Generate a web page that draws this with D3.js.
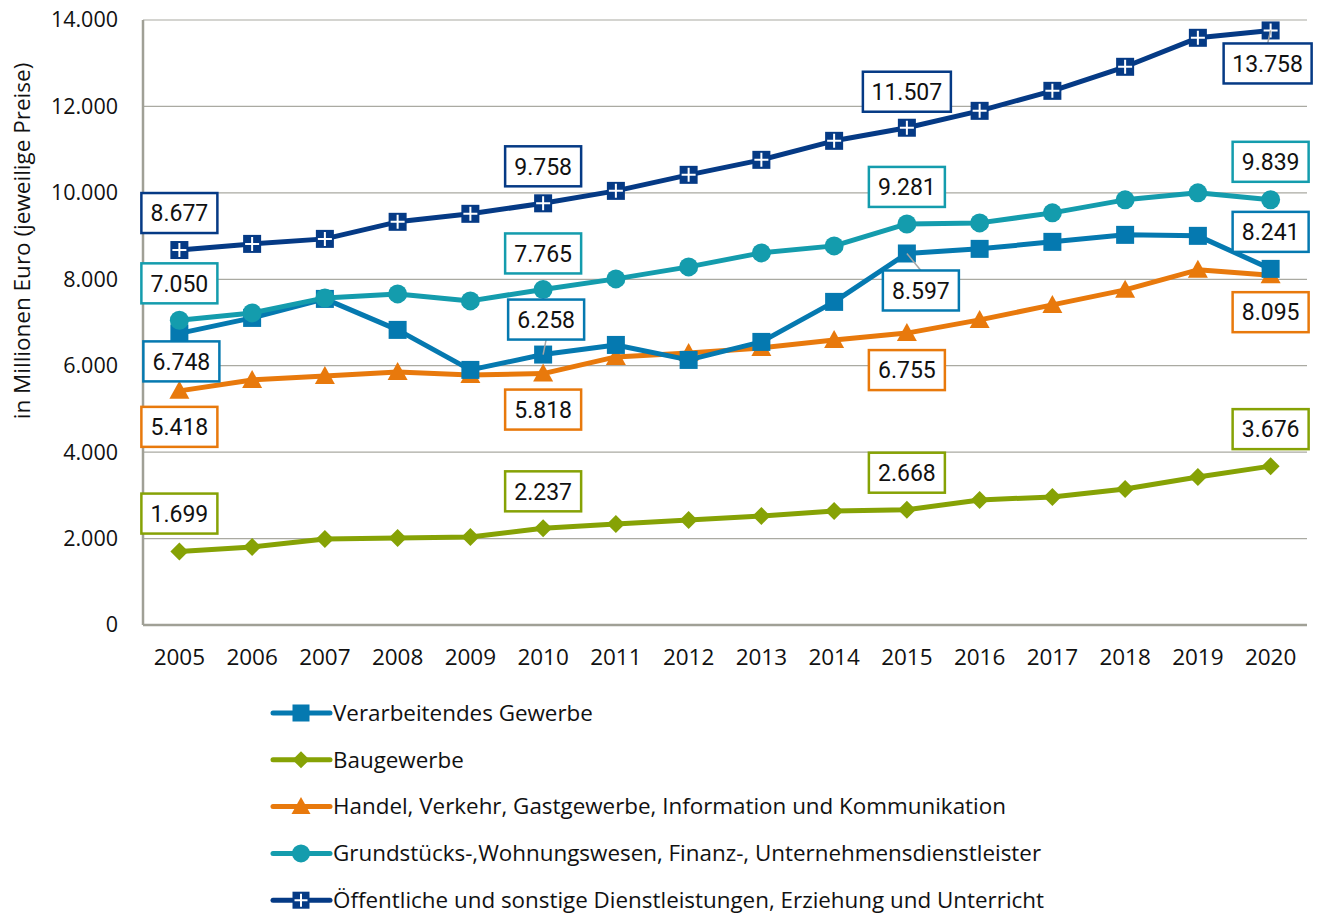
<!DOCTYPE html>
<html lang="de">
<head>
<meta charset="UTF-8">
<title>Bruttowertschöpfung</title>
<script src="https://cdn.jsdelivr.net/npm/d3@7"></script>
<style>
    * { margin: 0; }
    body { background: #fff; }
    svg { display: block; }
</style>
</head>
<body>
<svg id="chart" width="1320" height="915"></svg>
<script>
// Daten (Mio. Euro, jeweilige Preise)
const years = ["2005","2006","2007","2008","2009","2010","2011","2012","2013","2014","2015","2016","2017","2018","2019","2020"];
const yTicks = [0, 2000, 4000, 6000, 8000, 10000, 12000, 14000];

const verarbeitend = [6748, 7106, 7546, 6829, 5903, 6258, 6481, 6134, 6551, 7477, 8597, 8704, 8866, 9028, 9005, 8241];
const bau = [1699, 1806, 1991, 2014, 2037, 2237, 2338, 2431, 2523, 2639, 2668, 2894, 2963, 3148, 3426, 3676];
const handel = [5418, 5671, 5764, 5856, 5787, 5818, 6204, 6296, 6412, 6597, 6755, 7060, 7407, 7755, 8218, 8095];
const grundstueck = [7050, 7222, 7569, 7662, 7500, 7765, 8009, 8287, 8611, 8773, 9281, 9305, 9537, 9838, 10000, 9839];
const oeffentlich = [8677, 8819, 8935, 9330, 9515, 9758, 10046, 10417, 10764, 11204, 11507, 11898, 12361, 12917, 13588, 13758];

const seriesNames = [
    "Verarbeitendes Gewerbe",
    "Baugewerbe",
    "Handel, Verkehr, Gastgewerbe, Information und Kommunikation",
    "Grundstücks-,Wohnungswesen, Finanz-, Unternehmensdienstleister",
    "Öffentliche und sonstige Dienstleistungen, Erziehung und Unterricht"
];

// Beschriftete Jahre (Index) und Versatz der Box
const labelIdx = [0, 5, 10, 15];
const labelOffsets = [
    [[2, 28], [3, -35, true], [14, 37, true], [0, -37]],   // Verarbeitend
    [[0, -38], [0, -37], [0, -37], [0, -37]],              // Bau
    [[0, 36], [0, 36], [0, 37], [0, 37]],                  // Handel
    [[0, -37], [0, -36], [0, -37], [0, -38]],              // Grundstück
    [[0, -37], [0, -37], [0, -36], [-3, 33, true]]         // Öffentlich
];

const series = [
    { name: seriesNames[0], values: verarbeitend, color: "#0579b0", symbol: "square" },
    { name: seriesNames[1], values: bau, color: "#86a205", symbol: "diamond" },
    { name: seriesNames[2], values: handel, color: "#e8790c", symbol: "triangle" },
    { name: seriesNames[3], values: grundstueck, color: "#149cad", symbol: "circle" },
    { name: seriesNames[4], values: oeffentlich, color: "#053a85", symbol: "cross" }
];

const svg = d3.select("#chart");
const margin = { left: 143, right: 1307, top: 20, bottom: 625 };
const axisFont = "'Open Sans', sans-serif";

const x = d3.scaleBand().domain(years).range([margin.left, margin.right]);
const y = d3.scaleLinear().domain([0, 14000]).range([margin.bottom, margin.top]);
const cx = d => x(d) + x.bandwidth() / 2;

const fmt = d3.formatLocale({ decimal: ",", thousands: ".", grouping: [3], currency: ["", "€"] }).format(",");

// Gitterlinien
svg.append("g")
    .selectAll("line")
    .data(yTicks.filter(d => d > 0))
    .join("line")
    .attr("x1", margin.left).attr("x2", margin.right)
    .attr("y1", d => y(d)).attr("y2", d => y(d))
    .attr("stroke", "#aaaaa2").attr("stroke-width", 1.2);

// Achsenlinien
svg.append("line")
    .attr("x1", margin.left).attr("x2", margin.left)
    .attr("y1", margin.top).attr("y2", margin.bottom)
    .attr("stroke", "#a0a096").attr("stroke-width", 2.5);
svg.append("line")
    .attr("x1", margin.left).attr("x2", margin.right)
    .attr("y1", margin.bottom).attr("y2", margin.bottom)
    .attr("stroke", "#a0a096").attr("stroke-width", 2.5);

// Y-Achse Beschriftung
const yAxis = svg.append("g")
    .attr("transform", `translate(${margin.left},0)`)
    .call(d3.axisLeft(y).tickValues(yTicks).tickSize(0).tickPadding(25).tickFormat(fmt));
yAxis.select(".domain").remove();
yAxis.selectAll("text")
    .attr("font-family", axisFont).attr("font-size", 21.5).attr("fill", "#111");

// X-Achse Beschriftung
const xAxis = svg.append("g")
    .attr("transform", `translate(0,${margin.bottom})`)
    .call(d3.axisBottom(x).tickSize(0).tickPadding(24));
xAxis.select(".domain").remove();
xAxis.selectAll("text")
    .attr("font-family", axisFont).attr("font-size", 22.5).attr("fill", "#111");

// Y-Titel
svg.append("text")
    .attr("transform", "translate(30,241) rotate(-90)")
    .attr("text-anchor", "middle")
    .attr("font-family", axisFont).attr("font-size", 22.5)
    .attr("fill", "#111")
    .text("in Millionen Euro (jeweilige Preise)");

// Marker zeichnen
function marker(g, s, px, py, size) {
    const h = size / 2;
    if (s.symbol === "square") {
        g.append("rect").attr("x", px - h).attr("y", py - h).attr("width", size).attr("height", size).attr("fill", s.color);
    } else if (s.symbol === "diamond") {
        g.append("path").attr("d", `M${px},${py - h}L${px + h},${py}L${px},${py + h}L${px - h},${py}Z`).attr("fill", s.color);
    } else if (s.symbol === "triangle") {
        g.append("path").attr("d", `M${px},${py - h - 1}L${px + h + 1},${py + h - 1}L${px - h - 1},${py + h - 1}Z`).attr("fill", s.color);
    } else if (s.symbol === "circle") {
        g.append("circle").attr("cx", px).attr("cy", py).attr("r", h + 0.5).attr("fill", s.color);
    } else {
        g.append("rect").attr("x", px - h).attr("y", py - h).attr("width", size).attr("height", size).attr("fill", s.color);
        g.append("path").attr("d", `M${px},${py - h + 2}V${py + h - 2}M${px - h + 2},${py}H${px + h - 2}`)
            .attr("stroke", "#fff").attr("stroke-width", 2);
    }
}

const line = d3.line().x((d, i) => cx(years[i])).y(d => y(d));

// Linien (Reihenfolge wie im Original)
const drawOrder = [1, 2, 0, 3, 4];
drawOrder.forEach(k => {
    const s = series[k];
    const g = svg.append("g");
    g.append("path")
        .datum(s.values)
        .attr("d", line)
        .attr("fill", "none")
        .attr("stroke", s.color)
        .attr("stroke-width", 5)
        .attr("stroke-linejoin", "round");
    s.values.forEach((v, i) => marker(g, s, cx(years[i]), y(v), 18));
});

// Datenbeschriftungen
series.forEach((s, k) => {
    const g = svg.append("g");
    labelIdx.forEach((i, j) => {
        const [dx, dy, leader] = labelOffsets[k][j];
        const px = cx(years[i]), py = y(s.values[i]);
        const lx = px + dx, ly = py + dy;
        const txt = fmt(s.values[i]);
        const w = txt.length > 5 ? 88 : 76, h = 40;
        if (leader) {
            const ey = dy > 0 ? ly - h / 2 : ly + h / 2;
            g.append("line")
                .attr("x1", px).attr("y1", py)
                .attr("x2", lx).attr("y2", ey)
                .attr("stroke", "#a6a6a6").attr("stroke-width", 1.5);
        }
        g.append("rect")
            .attr("x", lx - w / 2).attr("y", ly - h / 2)
            .attr("width", w).attr("height", h)
            .attr("fill", "#fff")
            .attr("stroke", s.color).attr("stroke-width", 2.5);
        g.append("text")
            .attr("x", lx).attr("y", ly)
            .attr("dy", "0.36em")
            .attr("text-anchor", "middle")
            .attr("font-family", "Roboto, sans-serif")
            .attr("font-size", 23)
            .attr("fill", "#111")
            .text(txt);
    });
});

// Legende
const legend = svg.append("g");
series.forEach((s, k) => {
    const ly = 713 + k * 46.8;
    legend.append("line")
        .attr("x1", 273).attr("x2", 330)
        .attr("y1", ly).attr("y2", ly)
        .attr("stroke", s.color).attr("stroke-width", 5)
        .attr("stroke-linecap", "round");
    marker(legend, s, 301, ly, 17);
    legend.append("text")
        .attr("x", 333).attr("y", ly)
        .attr("dy", "0.35em")
        .attr("font-family", axisFont).attr("font-size", 22.4)
        .attr("fill", "#111")
        .text(s.name);
});
</script>
</body>
</html>
